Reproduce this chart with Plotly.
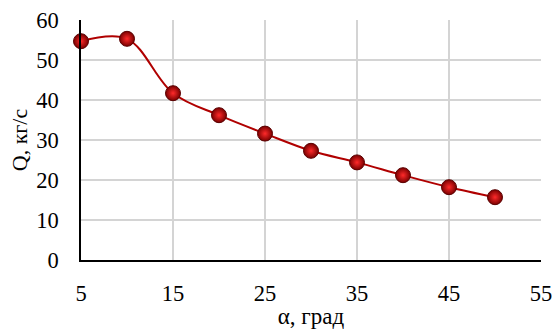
import plotly.graph_objects as go

alpha = [5, 10, 15, 20, 25, 30, 35, 40, 45, 50]
Q = [54.7, 55.3, 41.7, 36.2, 31.6, 27.3, 24.4, 21.2, 18.2, 15.7]

x_ticks = [5, 15, 25, 35, 45, 55]
y_ticks = [0, 10, 20, 30, 40, 50, 60]

font_family = "Liberation Serif, Times New Roman, serif"

fig = go.Figure()
fig.add_trace(go.Scatter(
    x=alpha, y=Q, mode="lines+markers",
    line=dict(color="#b00000", width=2, shape="spline", smoothing=1),
    marker=dict(size=15, color="#7a0000",
                gradient=dict(type="radial", color="#ff2a2a"),
                line=dict(color="#5a0000", width=1)),
    cliponaxis=False, showlegend=False,
))

fig.update_layout(
    width=558, height=329,
    margin=dict(l=81, r=17, t=20, b=69),
    paper_bgcolor="white", plot_bgcolor="white",
    font=dict(family=font_family, size=22.5, color="black"),
)
fig.update_xaxes(
    range=[5, 55], tickvals=x_ticks, ticktext=[str(v) for v in x_ticks],
    showgrid=True, gridcolor="#d4d4d4", gridwidth=1.5,
    showline=True, linecolor="black", linewidth=1.5,
    ticks="outside", ticklen=12, tickcolor="rgba(0,0,0,0)",
    zeroline=False, automargin=False,
    title=dict(text="α, град", font=dict(size=23), standoff=13),
)
fig.update_yaxes(
    range=[0, 60], tickvals=y_ticks,
    showgrid=True, gridcolor="#d4d4d4", gridwidth=1.5,
    showline=True, linecolor="black", linewidth=1.5,
    ticks="outside", ticklen=16, tickcolor="rgba(0,0,0,0)",
    zeroline=False, automargin=False,
    title=dict(text="Q, кг/с", font=dict(size=22), standoff=3),
)

fig.write_html("out.html")
